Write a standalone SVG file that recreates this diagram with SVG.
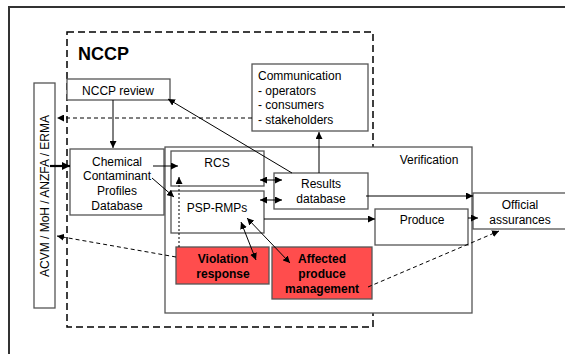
<svg xmlns="http://www.w3.org/2000/svg" width="565" height="354" viewBox="0 0 565 354">
<defs>
<style>
text{font-family:"Liberation Sans",Arial,sans-serif;font-size:12px;fill:#000}
.c{text-anchor:middle}
.b{font-weight:bold}
.box{fill:#fff;stroke:#555;stroke-width:1.3}
.red{fill:#ff4d4d;stroke:#555;stroke-width:1.3}
.ln{fill:none;stroke:#000;stroke-width:1}
.dash{fill:none;stroke:#000;stroke-width:1;stroke-dasharray:4 3}
.dot{fill:none;stroke:#000;stroke-width:1;stroke-dasharray:2 2}
</style>
<marker id="ah" viewBox="0 0 10 10" refX="10" refY="5" markerWidth="7" markerHeight="7" markerUnits="userSpaceOnUse" orient="auto-start-reverse"><path d="M0,0L10,5L0,10z" fill="#000"/></marker>
<marker id="ahb" viewBox="0 0 10 10" refX="10" refY="5" markerWidth="8" markerHeight="8" markerUnits="userSpaceOnUse" orient="auto"><path d="M0,0L10,5L0,10z" fill="#000"/></marker>
</defs>
<rect width="565" height="354" fill="#fff"/>
<path d="M9,354V7H565" fill="none" stroke="#333" stroke-width="2"/>
<g id="nccp">
<rect x="67" y="32" width="306" height="295" fill="none" stroke="#000" stroke-width="1.5" stroke-dasharray="7 4"/>
<text x="78" y="60" class="b" style="font-size:18px">NCCP</text>
</g>
<g id="verification">
<rect x="165" y="147" width="307" height="166" class="box"/>
<text x="429" y="164" class="c">Verification</text>
</g>
<g id="acvm">
<rect x="34" y="83" width="21" height="225" class="box"/>
<text transform="translate(49,196) rotate(-90)" class="c">ACVM / MoH / ANZFA / ERMA</text>
</g>
<g id="nccp-review">
<rect x="67" y="79" width="103" height="21" class="box"/>
<text x="118" y="95" class="c">NCCP review</text>
</g>
<g id="communication">
<rect x="252" y="64" width="116" height="67" class="box"/>
<text x="258" y="80">Communication</text>
<text x="258" y="95">- operators</text>
<text x="258" y="109">- consumers</text>
<text x="258" y="124">- stakeholders</text>
</g>
<g id="chemical">
<rect x="70" y="149" width="94" height="66" class="box"/>
<text x="117" y="166" class="c">Chemical</text>
<text x="117" y="180" class="c">Contaminant</text>
<text x="117" y="195" class="c">Profiles</text>
<text x="117" y="210" class="c">Database</text>
</g>
<g id="rcs">
<rect x="171" y="151" width="93" height="35" class="box"/>
<text x="217" y="167" class="c">RCS</text>
</g>
<g id="psp">
<rect x="171" y="191" width="93" height="42" class="box"/>
<text x="217" y="212" class="c">PSP-RMPs</text>
</g>
<g id="results">
<rect x="274" y="173" width="94" height="36" class="box"/>
<text x="321" y="188" class="c">Results</text>
<text x="321" y="203" class="c">database</text>
</g>
<g id="produce">
<rect x="375" y="209" width="93" height="36" class="box"/>
<text x="422" y="224" class="c">Produce</text>
</g>
<g id="official">
<rect x="473" y="193" width="100" height="36" class="box"/>
<text x="520" y="209" class="c">Official</text>
<text x="520" y="224" class="c">assurances</text>
</g>
<g id="violation">
<rect x="176" y="247" width="93" height="37" class="red"/>
<text x="223" y="263" class="c b">Violation</text>
<text x="223" y="278" class="c b">response</text>
</g>
<g id="affected">
<rect x="272" y="247" width="100" height="52" class="red"/>
<text x="322" y="263" class="c b">Affected</text>
<text x="322" y="278" class="c b">produce</text>
<text x="322" y="293" class="c b">management</text>
</g>
<g id="connectors">
<path d="M50,166H70" fill="none" stroke="#000" stroke-width="2.2" marker-end="url(#ahb)"/>
<path d="M113,100V148" class="ln" marker-end="url(#ah)"/>
<path d="M292,173L168,99" class="ln" marker-end="url(#ah)"/>
<path d="M319,173V132" class="ln" marker-end="url(#ah)"/>
<path d="M252,118H57" class="dash" marker-end="url(#ah)"/>
<path d="M153,166H178" class="ln" marker-end="url(#ah)"/>
<path d="M152,178L174,197" class="ln" marker-end="url(#ah)"/>
<path d="M179,247V177" class="dot" marker-end="url(#ah)"/>
<path d="M176,257L57,236" class="dash" marker-end="url(#ah)"/>
<path d="M260,180H282" class="ln" marker-start="url(#ah)" marker-end="url(#ah)"/>
<path d="M260,200H282" class="ln" marker-start="url(#ah)" marker-end="url(#ah)"/>
<path d="M264,219H375" class="ln" marker-end="url(#ah)"/>
<path d="M366,196H473" class="ln" marker-end="url(#ah)"/>
<path d="M468,218H478" class="ln" marker-end="url(#ah)"/>
<path d="M241,222L256,260" class="ln" marker-start="url(#ah)" marker-end="url(#ah)"/>
<path d="M247,218L290,263" class="ln" marker-start="url(#ah)" marker-end="url(#ah)"/>
<path d="M368,287L499,231" class="dash" marker-end="url(#ah)"/>
</g>
</svg>
